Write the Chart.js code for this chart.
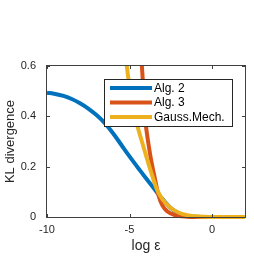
<!DOCTYPE html>
<html>
<head>
<meta charset="utf-8">
<script src="https://cdn.jsdelivr.net/npm/chart.js@4"></script>
<style>
  body { margin: 0; background: #fff; }
</style>
</head>
<body>
<canvas id="myChart" width="254" height="266"></canvas>
<script>
// values
const xTicks = [-10, -5, 0];
const yTicks = [0, 0.2, 0.4, 0.6];
const seriesNames = ['Alg. 2', 'Alg. 3', 'Gauss.Mech.'];

const xAlg2 = [-10, -9.5, -9, -8.5, -8, -7.5, -7, -6.5, -6, -5.5, -5, -4.5, -4, -3.5, -3, -2.5, -2, -1.5, -1, 0, 1, 2];
const yAlg2 = [0.494, 0.489, 0.481, 0.469, 0.452, 0.431, 0.405, 0.373, 0.333, 0.287, 0.241, 0.197, 0.154, 0.112, 0.071, 0.036, 0.014, 0.004, 0.001, 0, 0, 0];

const xAlg3 = [-4.3, -4.25, -4.15, -4.05, -3.95, -3.85, -3.7, -3.5, -3.24, -3, -2.7, -2.23, -1.5, -1, 0, 2];
const yAlg3 = [0.66, 0.6, 0.5, 0.39, 0.335, 0.29, 0.23, 0.165, 0.086, 0.045, 0.022, 0.007, 0.001, 0, 0, 0];

const xGauss = [-5.3, -5.16, -5.06, -4.8, -4.55, -4.25, -4, -3.7, -3.34, -3, -2.5, -2, -1.5, -1, -0.5, 0, 1, 2];
const yGauss = [0.7, 0.6, 0.547, 0.45, 0.37, 0.3, 0.245, 0.18, 0.11, 0.07, 0.036, 0.017, 0.007, 0.003, 0.001, 0, 0, 0];

const colors = ['#0072BD', '#D95319', '#EDB120'];

function pts(xs, ys) {
  return xs.map((x, i) => ({ x: x, y: ys[i] }));
}

// box, inner ticks and legend like the matlab figure
const frame = {
  id: 'frame',
  afterDraw(chart) {
    const ctx = chart.ctx;
    const a = chart.chartArea;
    const sx = chart.scales.x, sy = chart.scales.y;
    ctx.save();
    ctx.strokeStyle = '#404040';
    ctx.lineWidth = 1;
    ctx.strokeRect(Math.round(a.left) - 0.5, Math.round(a.top) - 0.5,
      Math.round(a.right - a.left) + 1, Math.round(a.bottom - a.top) + 1);
    ctx.beginPath();
    xTicks.forEach(v => {
      const px = Math.round(sx.getPixelForValue(v)) + 0.5;
      ctx.moveTo(px, a.bottom); ctx.lineTo(px, a.bottom - 3);
      ctx.moveTo(px, a.top); ctx.lineTo(px, a.top + 3);
    });
    yTicks.forEach(v => {
      const py = Math.round(sy.getPixelForValue(v)) + 0.5;
      ctx.moveTo(a.left, py); ctx.lineTo(a.left + 3, py);
      ctx.moveTo(a.right, py); ctx.lineTo(a.right - 3, py);
    });
    ctx.stroke();

    // legend
    const lx = 104.5, ly = 79.5, lw = 128, lh = 47;
    ctx.fillStyle = '#fff';
    ctx.fillRect(lx, ly, lw, lh);
    ctx.strokeStyle = '#262626';
    ctx.strokeRect(lx, ly, lw, lh);
    ctx.font = '12px "Liberation Sans", Arial, sans-serif';
    ctx.textBaseline = 'middle';
    ctx.textAlign = 'left';
    seriesNames.forEach((name, i) => {
      const yy = 88 + i * 14.5;
      ctx.strokeStyle = colors[i];
      ctx.lineWidth = 4;
      ctx.beginPath();
      ctx.moveTo(110, yy); ctx.lineTo(152, yy);
      ctx.stroke();
      ctx.fillStyle = '#000';
      ctx.fillText(name, 154, yy + 0.5);
    });
    ctx.restore();
  }
};

const series = [pts(xAlg2, yAlg2), pts(xAlg3, yAlg3), pts(xGauss, yGauss)];

var ctx = document.getElementById('myChart').getContext('2d');
var chart = new Chart(ctx, {
  type: 'line',
  data: {
    datasets: series.map((d, i) => ({
      label: seriesNames[i],
      data: d,
      borderColor: colors[i],
      backgroundColor: colors[i],
      borderWidth: 4,
      pointRadius: 0,
      tension: 0.4,
      cubicInterpolationMode: i === 0 ? 'default' : 'monotone',
      fill: false,
      order: 3 - i,
      clip: { left: 3, top: 0, right: 0, bottom: 3 }
    }))
  },
  options: {
    responsive: false,
    animation: false,
    devicePixelRatio: 1,
    layout: { padding: { top: 66, right: 9, left: 0, bottom: 0 } },
    plugins: { legend: { display: false }, tooltip: { enabled: false } },
    scales: {
      x: {
        type: 'linear',
        min: -10, max: 2,
        afterBuildTicks: s => { s.ticks = xTicks.map(v => ({ value: v })); },
        afterFit: s => { s.height = 49; },
        grid: { display: false, drawTicks: false },
        border: { display: false },
        ticks: { color: '#262626', padding: 6, font: { size: 11, family: '"Liberation Sans", Arial' }, maxRotation: 0 },
        title: { display: true, text: 'log ε', color: '#262626', padding: { top: 11, bottom: 11 }, font: { size: 14, family: '"Liberation Sans", Arial' } }
      },
      y: {
        min: 0, max: 0.6,
        afterBuildTicks: s => { s.ticks = yTicks.map(v => ({ value: v })); },
        afterFit: s => { s.width = 47; },
        grid: { display: false, drawTicks: false },
        border: { display: false },
        ticks: { color: '#262626', padding: 11, font: { size: 11, family: '"Liberation Sans", Arial' }, callback: v => String(v) },
        title: { display: true, text: 'KL divergence', color: '#262626', padding: { top: 3, bottom: 3 }, font: { size: 13, family: '"Liberation Sans", Arial' } }
      }
    }
  },
  plugins: [frame]
});
</script>
</body>
</html>
